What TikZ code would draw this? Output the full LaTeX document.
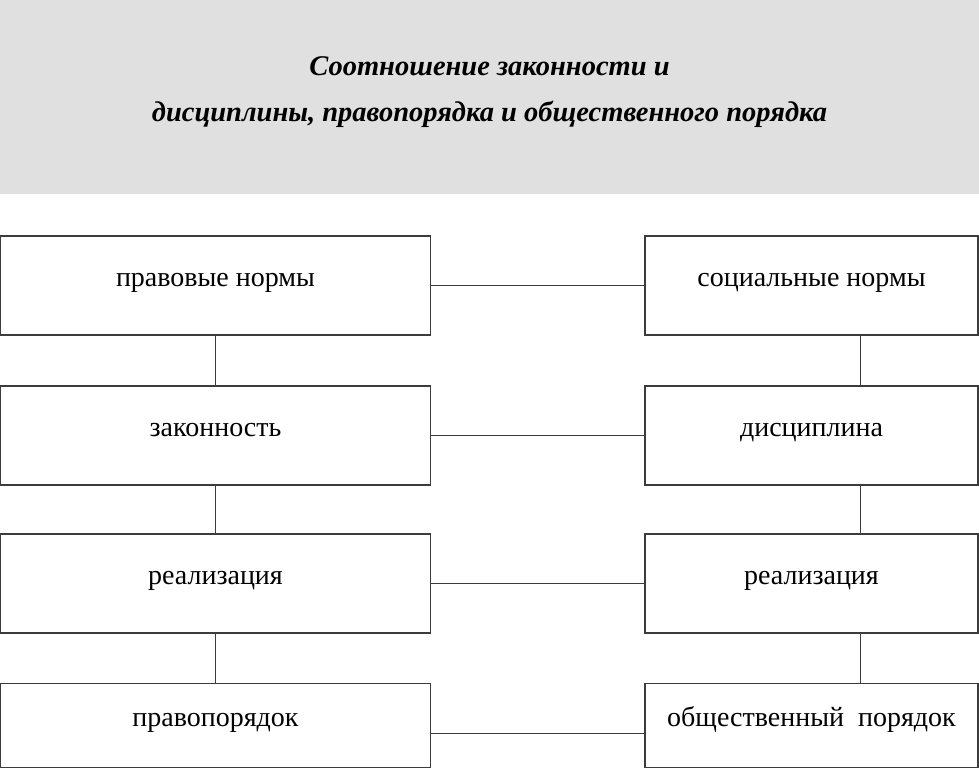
\documentclass[tikz,border=0pt]{standalone}
\usepackage{fontspec}
\setmainfont{Liberation Serif}
\usetikzlibrary{positioning}

\definecolor{bandgray}{RGB}{224,224,224}
\definecolor{linegray}{RGB}{60,60,60}

\begin{document}
\begin{tikzpicture}[
    x=1pt, y=-1pt,
    box/.style = {
        rectangle,
        minimum height=99pt,
        inner sep=0pt,
        text height=0.5em,
        text depth=0.36em,
        text centered,
        draw=linegray,
        fill=white,
        line width=1.2pt,
        font=\fontsize{28}{32}\selectfont
    },
    leftbox/.style = {box, minimum width=430pt},
    rightbox/.style = {box, minimum width=333pt},
    link/.style = {draw=linegray, line width=1.2pt},
    heading/.style = {anchor=base, font=\bfseries\itshape\fontsize{28.5}{32}\selectfont}
]
    \useasboundingbox (0,0) rectangle (979,768);

    % === TITLE BAND ===
    \fill[bandgray] (0,0) rectangle (979,194);
    \node[heading] (title1) at (489.5,75) {Соотношение законности и};
    \node[heading] (title2) at (489.5,121) {дисциплины, правопорядка и общественного порядка};

    % === LEFT COLUMN ===
    \node[leftbox] (normL) at (215.5,285.5) {правовые нормы};
    \node[leftbox] (legal) at (215.5,435.5) {законность};
    \node[leftbox] (realL) at (215.5,583.5) {реализация};
    \node[leftbox, minimum height=84pt] (order) at (215.5,725.5) {правопорядок};

    % === RIGHT COLUMN ===
    \node[rightbox] (normR) at (811.5,285.5) {социальные нормы};
    \node[rightbox] (disc) at (811.5,435.5) {дисциплина};
    \node[rightbox] (realR) at (811.5,583.5) {реализация};
    \node[rightbox, minimum height=84pt] (public) at (811.5,725.5) {общественный~~порядок};

    % === VERTICAL LINKS ===
    \draw[link] (normL) -- (legal);
    \draw[link] (legal) -- (realL);
    \draw[link] (realL) -- (order);
    \draw[link] ([xshift=49pt]normR.south) -- ([xshift=49pt]disc.north);
    \draw[link] ([xshift=49pt]disc.south) -- ([xshift=49pt]realR.north);
    \draw[link] ([xshift=49pt]realR.south) -- ([xshift=49pt]public.north);

    % === HORIZONTAL LINKS ===
    \draw[link] (normL) -- (normR);
    \draw[link] (legal) -- (disc);
    \draw[link] (realL) -- (realR);
    \draw[link] ([yshift=-8pt]order.east) -- ([yshift=-8pt]public.west);

\end{tikzpicture}
\end{document}
